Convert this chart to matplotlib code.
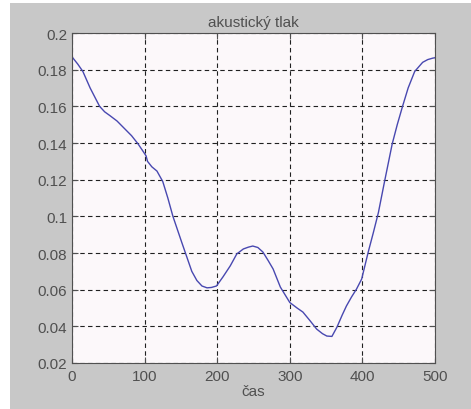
import matplotlib.pyplot as plt
import matplotlib.patches as patches

# sampled acoustic pressure over time
cas = [0, 8, 15, 25, 38, 45, 52, 62, 73, 82, 91, 97, 102, 104, 110, 117, 125,
       132, 139, 145, 151, 158, 165, 172, 179, 186, 192, 199, 208, 218, 227,
       236, 243, 249, 256, 263, 270, 277, 287, 300, 310, 318, 328, 337, 345,
       351, 358, 365, 372, 378, 385, 392, 399, 408, 415, 422, 430, 441, 448,
       455, 463, 472, 483, 490, 497, 500]
tlak = [0.187, 0.183, 0.179, 0.170, 0.160, 0.157, 0.155, 0.152, 0.1476, 0.144,
        0.1395, 0.136, 0.133, 0.130, 0.127, 0.1247, 0.119, 0.110, 0.100, 0.093,
        0.086, 0.078, 0.070, 0.065, 0.062, 0.061, 0.0612, 0.062, 0.067, 0.073,
        0.0795, 0.0822, 0.0832, 0.0838, 0.083, 0.0805, 0.076, 0.0713, 0.0614,
        0.053, 0.050, 0.0478, 0.043, 0.0385, 0.036, 0.0347, 0.0345, 0.0396,
        0.046, 0.0511, 0.056, 0.0604, 0.0658, 0.0805, 0.091, 0.102, 0.118,
        0.1394, 0.150, 0.1596, 0.170, 0.179, 0.184, 0.1855, 0.1863, 0.1865]

x_ticks = [0, 100, 200, 300, 400, 500]
y_ticks = [0.02, 0.04, 0.06, 0.08, 0.1, 0.12, 0.14, 0.16, 0.18, 0.2]
y_labels = ['0.02', '0.04', '0.06', '0.08', '0.1', '0.12', '0.14', '0.16', '0.18', '0.2']

plt.rcParams['font.family'] = ['Liberation Sans', 'DejaVu Sans']

fig = plt.figure(figsize=(4.71, 4.10), dpi=100, facecolor='white')
# grey window background with a thin white strip on the left and top
fig.patches.append(patches.Rectangle((10 / 471, 0), 1, 406 / 410,
                                     transform=fig.transFigure,
                                     facecolor='#c8c8c8', edgecolor='none',
                                     zorder=-1))

ax = fig.add_axes([72 / 471, 46 / 410, 363 / 471, 330 / 410])
ax.set_facecolor('#fcf8fa')
ax.plot(cas, tlak, color='#4848b0', linewidth=1.0)

ax.set_xlim(0, 500)
ax.set_ylim(0.02, 0.2)
ax.set_xticks(x_ticks)
ax.set_yticks(y_ticks)
ax.set_yticklabels(y_labels)
ax.tick_params(direction='in', length=4, colors='#505050', labelsize=11,
               top=True, right=True, width=0.8)
ax.tick_params(axis='x', pad=4)
for s in ax.spines.values():
    s.set_color('#505050')
    s.set_linewidth(0.8)

ax.grid(True, color='#202020', linestyle=(0, (4, 3)), linewidth=0.8)

ax.set_title('akustický tlak', fontsize=11, color='#505050', pad=5)
ax.set_xlabel('čas', fontsize=11, color='#505050', labelpad=1)

fig.savefig('out.png', dpi=100, facecolor=fig.get_facecolor())
